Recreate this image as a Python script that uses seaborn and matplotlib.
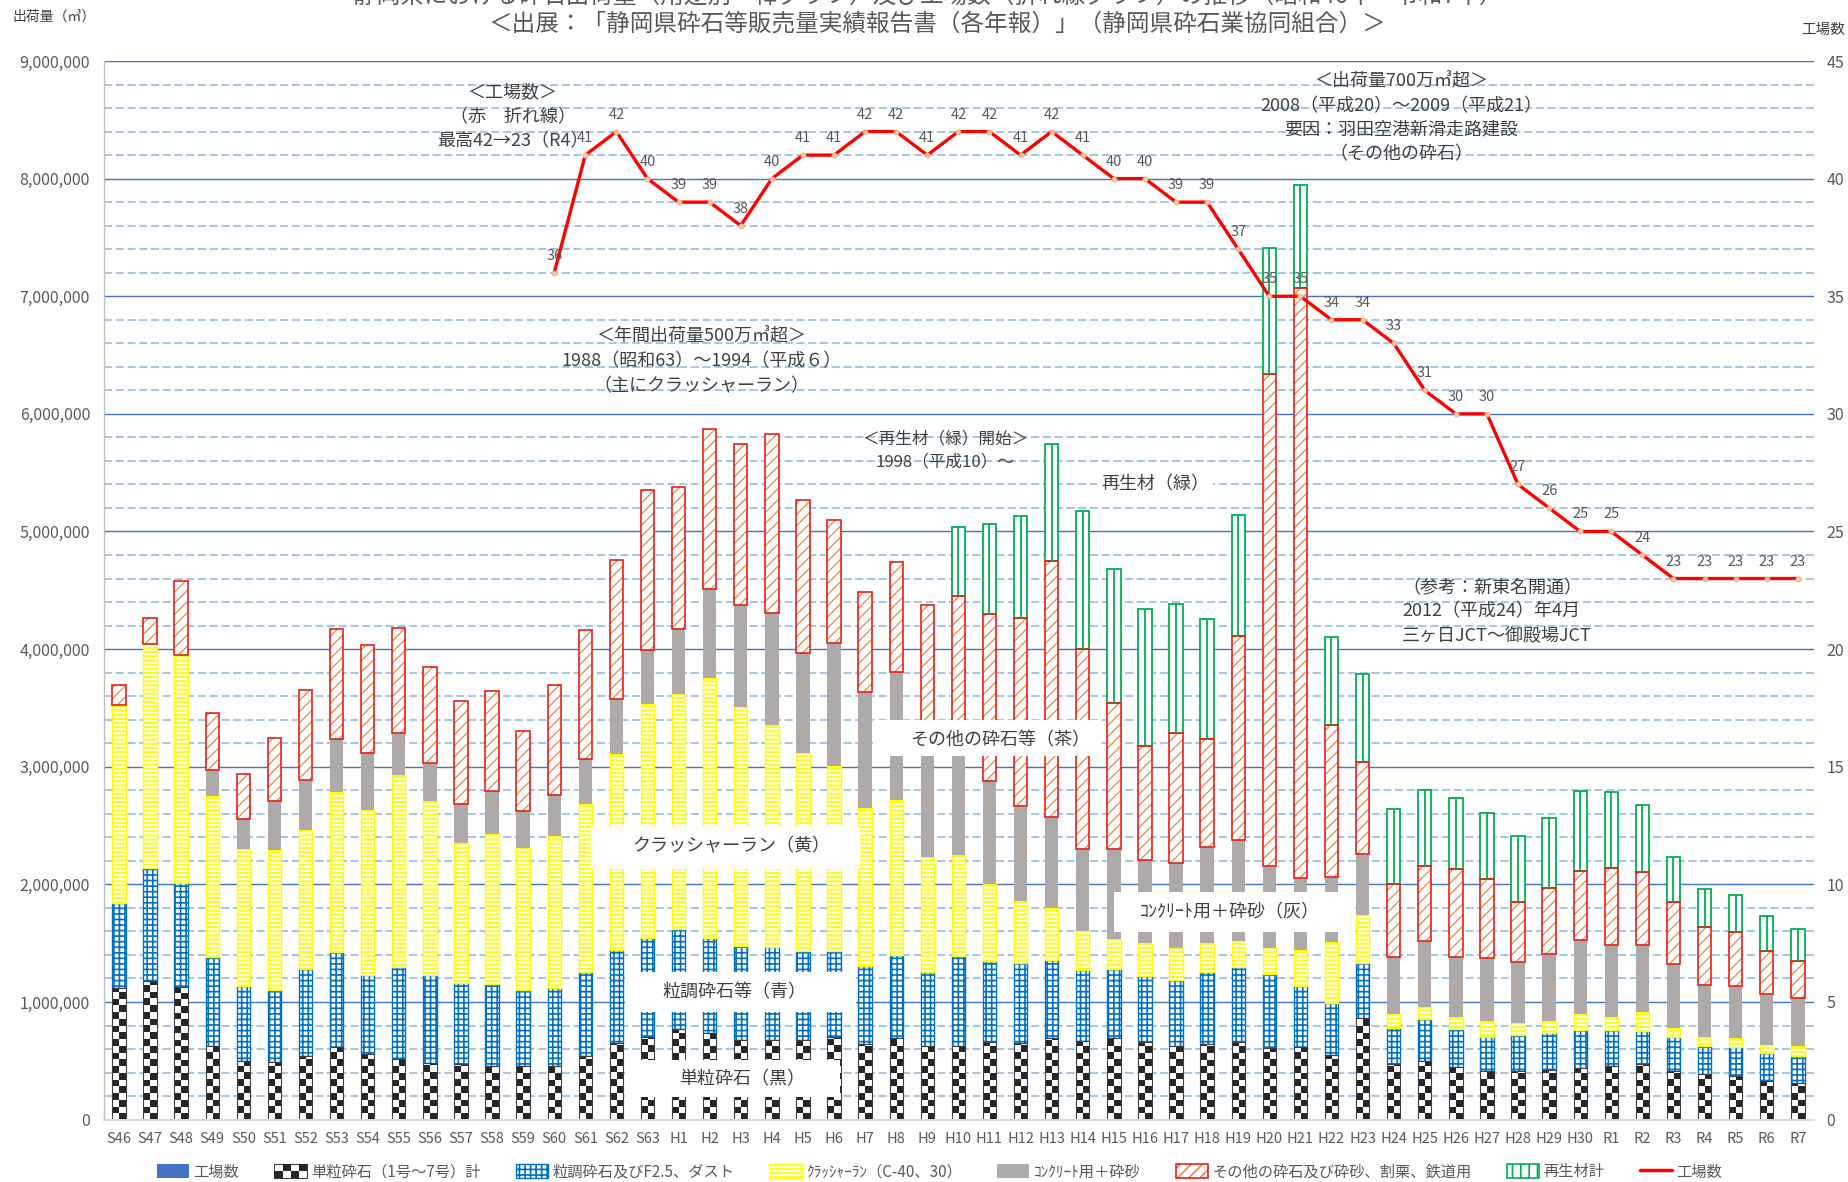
import numpy as np
import matplotlib
matplotlib.use("Agg")
import matplotlib.pyplot as plt
import seaborn as sns
from matplotlib.patches import Patch, Rectangle
from matplotlib.lines import Line2D
from matplotlib.colors import ListedColormap
from matplotlib.legend_handler import HandlerBase
from matplotlib.ticker import MultipleLocator, FuncFormatter

# ---------------- data ----------------
years = ["S46", "S47", "S48", "S49", "S50", "S51", "S52", "S53", "S54", "S55",
         "S56", "S57", "S58", "S59", "S60", "S61", "S62", "S63",
         "H1", "H2", "H3", "H4", "H5", "H6", "H7", "H8", "H9", "H10",
         "H11", "H12", "H13", "H14", "H15", "H16", "H17", "H18", "H19", "H20",
         "H21", "H22", "H23", "H24", "H25", "H26", "H27", "H28", "H29", "H30",
         "R1", "R2", "R3", "R4", "R5", "R6", "R7"]

UNIT = 1000  # values below are in 千㎥

single = [1115, 1182, 1130, 624, 494, 488, 539, 615, 555, 518, 485, 470, 458, 455, 458, 539, 655, 706,
          773, 736, 676, 676, 676, 706, 645, 691, 630, 630,
          661, 655, 697, 667, 691, 661, 624, 645, 661, 606,
          615, 545, 864, 470, 494, 448, 409, 412, 424, 439,
          455, 473, 412, 388, 373, 327, 312]
graded = [727, 957, 885, 758, 645, 612, 743, 809, 675, 779, 745, 691, 694, 651, 663, 713, 785, 839,
          848, 809, 803, 794, 757, 727, 658, 712, 628, 758,
          687, 678, 661, 606, 591, 560, 561, 607, 636, 630,
          521, 449, 469, 312, 364, 319, 297, 309, 312, 319,
          303, 279, 288, 236, 242, 237, 227]
crusher = [1682, 1906, 1933, 1370, 1158, 1188, 1176, 1364, 1406, 1636, 1476, 1191, 1272, 1206, 1291, 1433, 1666, 1985,
           1994, 2213, 2030, 1888, 1688, 1570, 1349, 1312, 978, 864,
           652, 525, 439, 333, 251, 282, 270, 248, 218, 219,
           306, 515, 403, 115, 100, 106, 130, 97, 106, 139,
           115, 166, 82, 82, 76, 72, 91]
concrete = [0, 0, 0, 218, 258, 418, 430, 448, 485, 355, 324, 333, 373, 312, 346, 385, 470, 464,
            552, 751, 870, 948, 849, 1052, 984, 1088, 1014, 898,
            879, 809, 779, 697, 770, 703, 727, 818, 864, 697,
            613, 552, 525, 482, 557, 509, 537, 518, 567, 633,
            612, 567, 539, 439, 448, 434, 400]
other = [173, 222, 628, 488, 387, 539, 767, 931, 918, 888, 818, 870, 848, 679, 933, 1091, 1184, 1356,
         1213, 1361, 1361, 1524, 1300, 1045, 849, 939, 1123, 1298,
         1418, 1600, 2174, 1697, 1236, 970, 1106, 918, 1730, 4188,
         5015, 1291, 778, 621, 637, 748, 672, 516, 561, 585,
         651, 624, 527, 494, 452, 363, 322]
recycled = [0, 0, 0, 0, 0, 0, 0, 0, 0, 0, 0, 0, 0, 0, 0, 0, 0, 0,
            0, 0, 0, 0, 0, 0, 0, 0, 0, 592,
            763, 863, 990, 1170, 1141, 1166, 1094, 1022, 1031, 1070,
            880, 754, 749, 639, 654, 606, 561, 560, 591, 676,
            646, 564, 388, 325, 318, 294, 272]

factory_years = ["S60", "S61", "S62", "S63", "H1", "H2", "H3", "H4", "H5", "H6", "H7", "H8", "H9", "H10",
                 "H11", "H12", "H13", "H14", "H15", "H16", "H17", "H18", "H19", "H20",
                 "H21", "H22", "H23", "H24", "H25", "H26", "H27", "H28", "H29", "H30",
                 "R1", "R2", "R3", "R4", "R5", "R6", "R7"]
factories = [36, 41, 42, 40, 39, 39, 38, 40, 41, 41, 42, 42, 41, 42,
             42, 41, 42, 41, 40, 40, 39, 39, 37, 35,
             35, 34, 34, 33, 31, 30, 30, 27, 26, 25,
             25, 24, 23, 23, 23, 23, 23]

legend_labels = ["工場数", "単粒砕石（1号～7号）計", "粒調砕石及びF2.5、ダスト", "ｸﾗｯｼｬｰﾗﾝ（C-40、30）",
                 "ｺﾝｸﾘｰﾄ用＋砕砂", "その他の砕石及び砕砂、割栗、鉄道用", "再生材計", "工場数"]

# ---------------- style ----------------
sns.set_style("white")
plt.rcParams["font.family"] = ["Noto Sans CJK JP", "DejaVu Sans"]
plt.rcParams["hatch.linewidth"] = 1.3
plt.rcParams["axes.unicode_minus"] = False

GRAY_TXT = "#595959"
DARK_TXT = "#404040"
BLUE = "#0070C0"
YELLOW = "#FFFF00"
GRAYBAR = "#AEAAAA"
ORANGE = "#EE8544"
RED = "#E8201A"
GREEN = "#00B050"
CHECK = "#262626"
BW = 0.43

fig = plt.figure(figsize=(18.48, 11.82), dpi=100)
ax = fig.add_axes([0.05628, 0.05279, 0.92532, 0.89560])
ax.set_axisbelow(True)

n = len(years)


def stacked(vals, bottom, style):
    v = np.asarray(vals, dtype=float) * UNIT
    hlw = style.get("hlw", 1.3)
    plt.rcParams["hatch.linewidth"] = hlw
    sns.barplot(x=years, y=v, bottom=bottom, width=BW, color="white", saturation=1,
                errorbar=None, ax=ax)
    cont = ax.containers[-1]
    for p, h in zip(cont.patches, v):
        p.set_facecolor(style["face"])
        p.set_edgecolor(style["edge"])
        p.set_linewidth(style["lw"])
        if style.get("hatch"):
            p.set_hatch(style["hatch"])
            if hasattr(p, "set_hatch_linewidth"):
                p.set_hatch_linewidth(hlw)
        p.set_zorder(style.get("z", 1))
        if h <= 0:
            p.set_visible(False)
    return cont, v


bottom = np.zeros(n)
c_single, v = stacked(single, bottom, dict(face="none", edge="#404040", lw=0.8, z=1.2))
# checker pattern inside each 単粒砕石 bar
sq_h = 57000
cmap = ListedColormap(["white", CHECK])
for p in c_single.patches:
    h = p.get_height()
    if h <= 0:
        continue
    x0, y0, w = p.get_x(), p.get_y(), p.get_width()
    nr = int(np.ceil(h / sq_h))
    arr = np.add.outer(np.arange(nr), np.arange(2)) % 2
    im = ax.imshow(arr, cmap=cmap, vmin=0, vmax=1, origin="lower", aspect="auto",
                   interpolation="nearest", extent=(x0, x0 + w, y0, y0 + nr * sq_h), zorder=1.1)
    im.set_clip_path(p)
bottom = bottom + v

c_graded, v = stacked(graded, bottom, dict(face="white", edge=BLUE, lw=1.0, hatch="+++", hlw=1.2))
bottom = bottom + v
c_crusher, v = stacked(crusher, bottom, dict(face="white", edge=YELLOW, lw=1.0, hatch="----", hlw=1.4))
bottom = bottom + v
c_conc, v = stacked(concrete, bottom, dict(face=GRAYBAR, edge="none", lw=0))
bottom = bottom + v
c_other, v = stacked(other, bottom, dict(face="white", edge=ORANGE, lw=0, hatch="///", hlw=0.9))
c_other2, _ = stacked(other, bottom, dict(face="none", edge=RED, lw=1.2, z=1.3))
bottom = bottom + v
c_rec, v = stacked(recycled, bottom, dict(face="white", edge=GREEN, lw=1.3))
for p, h in zip(c_rec.patches, v):
    if h > 0:
        cx = p.get_x() + p.get_width() / 2
        ax.vlines(cx, p.get_y(), p.get_y() + h, color=GREEN, lw=1.3, zorder=1.3)
plt.rcParams["hatch.linewidth"] = 1.2

# ---------------- axes formatting ----------------
ax.set_xlim(-0.48, 54.52)
ax.set_ylim(0, 9_000_000)
ax.set_yticks(np.arange(0, 9_000_001, 1_000_000))
ax.yaxis.set_minor_locator(MultipleLocator(200_000))
ax.yaxis.set_major_formatter(FuncFormatter(lambda x, _: f"{x:,.0f}"))
ax.grid(False)
ax.grid(which="major", axis="y", color="#4472C4", lw=1.0, ls="-")
ax.grid(which="minor", axis="y", color="#9DC3E6", lw=1.3, ls=(0, (4.5, 2)))
ax.tick_params(axis="both", which="both", length=0)
ax.tick_params(axis="y", pad=10, labelsize=11.5, labelcolor=GRAY_TXT)
ax.tick_params(axis="x", pad=9, labelsize=10.5, labelcolor=GRAY_TXT)
ax.set_xlabel("")
ax.set_ylabel("")
for s in ["top", "right"]:
    ax.spines[s].set_visible(False)
ax.spines["left"].set_color("#BFBFBF")
ax.spines["left"].set_linewidth(1.0)
ax.spines["bottom"].set_color("#D9D9D9")
ax.spines["bottom"].set_linewidth(1.4)

# ---------------- factory line (right axis) ----------------
ax2 = ax.twinx()
fpos = [years.index(y) for y in factory_years]
sns.lineplot(x=fpos, y=factories, ax=ax2, color="#FF0000", lw=2.4, marker="o", markersize=3.5,
             markerfacecolor="#F8CBAD", markeredgecolor="#F4B183", errorbar=None, sort=False)
for xp, fv in zip(fpos, factories):
    ax2.annotate(str(fv), (xp, fv), xytext=(0, 17), textcoords="offset pixels",
                 ha="center", va="center", fontsize=10.5, color=GRAY_TXT)
ax2.set_ylim(0, 45)
ax2.set_yticks(np.arange(0, 46, 5))
ax2.tick_params(axis="y", length=0, pad=9, labelsize=11.5, labelcolor=GRAY_TXT)
ax2.grid(False)
ax2.set_ylabel("")
for s in ax2.spines.values():
    s.set_visible(False)
ax.set_xlim(-0.48, 54.52)

# ---------------- label boxes over bars ----------------
boxes = [
    ((24.25, 3.09e6), 31.55 - 24.25, 0.31e6, (28.33, 3.228e6), "その他の砕石等（茶）"),
    ((15.18, 2.127e6), 23.83 - 15.18, 0.367e6, (19.68, 2.32e6), "クラッシャーラン（黄）"),
    ((16.28, 0.918e6), 23.70 - 16.28, 0.334e6, (19.78, 1.079e6), "粒調砕石等（青）"),
    ((16.28, 0.19e6), 23.19 - 16.28, 0.32e6, (20.05, 0.339e6), "単粒砕石（黒）"),
    ((32.0, 1.594e6), 39.77 - 32.0, 0.339e6, (35.73, 1.763e6), "ｺﾝｸﾘｰﾄ用＋砕砂（灰）"),
]
for xy, w, h, txy, t in boxes:
    ax.add_patch(Rectangle(xy, w, h, facecolor="white", edgecolor="none", zorder=3))
    ax.text(txy[0], txy[1], t, ha="center", va="center", fontsize=13, color=DARK_TXT, zorder=4)

ax.text(33.32, 5.398e6, "再生材（緑）", ha="center", va="center", fontsize=13, color=DARK_TXT, zorder=4,
        bbox=dict(facecolor="white", edgecolor="none", pad=3))


# ---------------- annotations ----------------
def block(x, ys, lines, ha="center", size=13):
    for y, t in zip(ys, lines):
        ax.text(x, y, t, ha=ha, va="center", fontsize=size, color=DARK_TXT, zorder=4)


block(12.66, [8.735e6, 8.525e6, 8.315e6], ["＜工場数＞", "（赤　折れ線）", "最高42→23（R4）"])
block(18.73, [6.657e6, 6.447e6, 6.237e6],
      ["＜年間出荷量500万㎥超＞", "1988（昭和63）～1994（平成６）", "（主にクラッシャーラン）"])
block(26.57, [5.787e6, 5.588e6], ["＜再生材（緑）開始＞", "1998（平成10）～"], size=12)
block(41.24, [8.826e6, 8.616e6, 8.417e6, 8.207e6],
      ["＜出荷量700万㎥超＞", "2008（平成20）～2009（平成21）", "要因：羽田空港新滑走路建設", "（その他の砕石）"])
block(41.27, [4.517e6, 4.318e6, 4.119e6],
      ["（参考：新東名開通）", "2012（平成24）年4月", "三ヶ日JCT～御殿場JCT"], ha="left")

# ---------------- titles / axis captions ----------------
fig.text(0.502, 1.0034, "静岡県における砕石出荷量（用途別・棒グラフ）及び工場数（折れ線グラフ）の推移（昭和46年～令和7年）",
         ha="center", va="center", fontsize=17, color=GRAY_TXT)
fig.text(0.507, 1 - 23.6 / 1182, "＜出展：「静岡県砕石等販売量実績報告書（各年報）」（静岡県砕石業協同組合）＞",
         ha="center", va="center", fontsize=17, color=GRAY_TXT)
fig.text(12 / 1848, 1 - 16.5 / 1182, "出荷量（㎥）", ha="left", va="center", fontsize=10, color=DARK_TXT)
fig.text(1845 / 1848, 1 - 29.5 / 1182, "工場数", ha="right", va="center", fontsize=10.5, color=DARK_TXT)


# ---------------- legend ----------------
class CheckerHandler(HandlerBase):
    def create_artists(self, legend, orig_handle, xdescent, ydescent, width, height, fontsize, trans):
        x0, y0 = -xdescent, -ydescent
        arts = [Rectangle((x0, y0), width, height, facecolor="white", edgecolor="#404040",
                          lw=0.8, transform=trans)]
        nx, ny = 4, 2
        cw, ch = width / nx, height / ny
        for i in range(nx):
            for j in range(ny):
                if (i + j) % 2 == 0:
                    arts.append(Rectangle((x0 + i * cw, y0 + j * ch), cw, ch, facecolor=CHECK,
                                          edgecolor="none", transform=trans))
        return arts


h_single = Patch(facecolor=CHECK)
handles = [
    Patch(facecolor="#4472C4", edgecolor="none"),
    h_single,
    Patch(facecolor="white", edgecolor=BLUE, hatch="+++", lw=1.0),
    Patch(facecolor="white", edgecolor=YELLOW, hatch="----", lw=1.0),
    Patch(facecolor=GRAYBAR, edgecolor="none"),
    (Patch(facecolor="white", edgecolor=ORANGE, hatch="///", lw=0),
     Patch(facecolor="none", edgecolor=RED, lw=1.2)),
    Patch(facecolor="white", edgecolor=GREEN, hatch="||", lw=1.2),
    Line2D([], [], color="#FF0000", lw=2.5),
]
fig.legend(handles, legend_labels, loc="center", bbox_to_anchor=(0.5084, 0.0085), ncol=8,
           frameon=False, fontsize=11, labelcolor=GRAY_TXT, handlelength=2.1, handleheight=1.0,
           handletextpad=0.3, columnspacing=2.3, borderpad=0,
           handler_map={h_single: CheckerHandler()})

fig.savefig("out.png", dpi=100)
